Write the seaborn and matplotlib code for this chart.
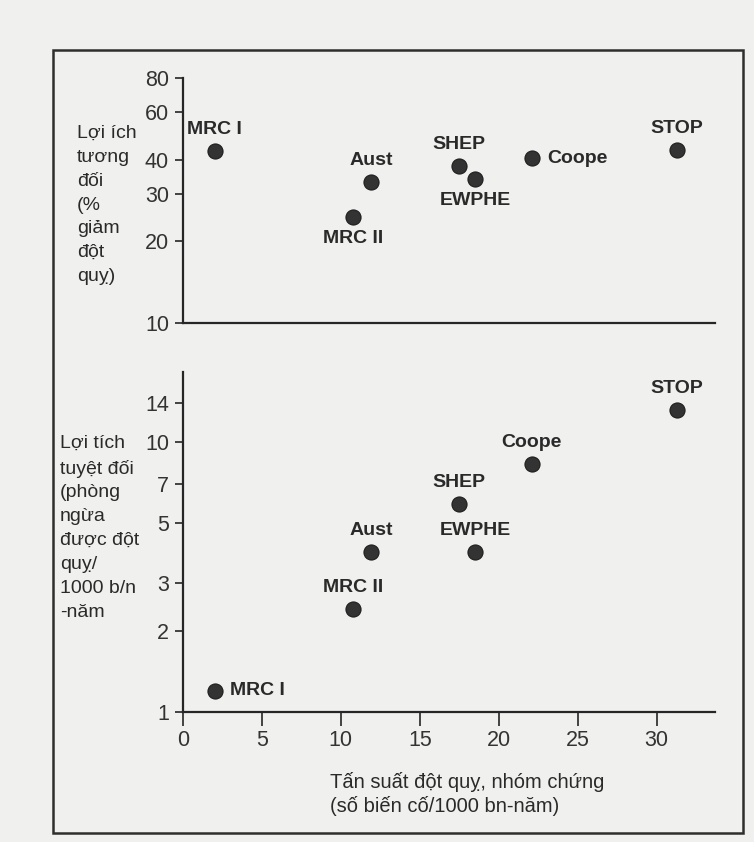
import matplotlib
matplotlib.use("Agg")
import matplotlib.pyplot as plt
import seaborn as sns
import pandas as pd
from matplotlib.patches import Rectangle
from matplotlib.ticker import FixedLocator, FixedFormatter, NullLocator

# ---- data ----
trials = ["MRC I", "MRC II", "Aust", "SHEP", "EWPHE", "Coope", "STOP"]
control_incidence = [2.0, 10.8, 11.9, 17.5, 18.5, 22.1, 31.3]      # events / 1000 pt-years
relative_benefit = [43.0, 24.5, 33.0, 38.0, 34.0, 40.5, 43.5]      # % stroke reduction
absolute_benefit = [1.2, 2.4, 3.93, 5.9, 3.93, 8.3, 13.2]          # strokes prevented / 1000 pt-years

top_ticks = [10, 20, 30, 40, 60, 80]
bottom_ticks = [1, 2, 3, 5, 7, 10, 14]
x_ticks = [0, 5, 10, 15, 20, 25, 30]

# label placement: 'above', 'below', 'right'
top_pos = ["above", "below", "above", "above", "below", "right", "above"]
bottom_pos = ["right", "above", "above", "above", "above", "above", "above"]

df = pd.DataFrame({"trial": trials, "x": control_incidence,
                   "rel": relative_benefit, "abs": absolute_benefit})

sns.set_theme(style="white")
plt.rcParams["font.family"] = ["Liberation Sans", "DejaVu Sans"]

W, H = 754, 842
bg = "#f0f0ee"
ink = "#262626"
fig = plt.figure(figsize=(W / 100, H / 100), dpi=100, facecolor=bg)

def ax_rect(x0, y0, x1, y1):
    return [x0 / W, 1 - y1 / H, (x1 - x0) / W, (y1 - y0) / H]

ax1 = fig.add_axes(ax_rect(183, 78, 715, 323))
ax2 = fig.add_axes(ax_rect(183, 372, 715, 712))

for ax in (ax1, ax2):
    ax.set_facecolor("none")
    for s in ("top", "right"):
        ax.spines[s].set_visible(False)
    for s in ("left", "bottom"):
        ax.spines[s].set_color(ink)
        ax.spines[s].set_linewidth(1.6)
    ax.set_yscale("log")
    ax.set_xlim(0, 33.7)
    ax.yaxis.set_minor_locator(NullLocator())
    ax.tick_params(axis="y", direction="out", length=6, width=1.2, color=ink,
                   labelsize=15.5, labelcolor="#333333", pad=4, left=True)

sns.scatterplot(data=df, x="x", y="rel", ax=ax1, s=118, color="#333333",
                edgecolor="#1e1e1e", linewidth=0.8, legend=False, zorder=3)
sns.scatterplot(data=df, x="x", y="abs", ax=ax2, s=118, color="#333333",
                edgecolor="#1e1e1e", linewidth=0.8, legend=False, zorder=3)

ax1.set_ylim(10, 80)
ax1.yaxis.set_major_locator(FixedLocator(top_ticks))
ax1.yaxis.set_major_formatter(FixedFormatter([str(t) for t in top_ticks]))
ax1.set_xticks([])
ax1.set_xlabel("")
ax1.set_ylabel("")

ax2.set_ylim(1, 18.2)
ax2.yaxis.set_major_locator(FixedLocator(bottom_ticks))
ax2.yaxis.set_major_formatter(FixedFormatter([str(t) for t in bottom_ticks]))
ax2.set_xticks(x_ticks)
ax2.set_xticklabels([str(t) for t in x_ticks])
ax2.tick_params(axis="x", direction="out", length=10, width=1.2, color=ink,
                labelsize=15.5, labelcolor="#333333", pad=3, bottom=True)
ax2.set_xlabel("")
ax2.set_ylabel("")

def label_points(ax, ycol, positions):
    for t, xv, yv, p in zip(df["trial"], df["x"], df[ycol], positions):
        if p == "above":
            off, ha, va = (0, 15.5), "center", "center"
        elif p == "below":
            off, ha, va = (0, -15.5), "center", "center"
        else:
            off, ha, va = (11, 0), "left", "center"
        ax.annotate(t, (xv, yv), xytext=off, textcoords="offset points",
                    ha=ha, va=va, fontsize=14, fontweight="bold", color="#2a2a2a")

label_points(ax1, "rel", top_pos)
label_points(ax2, "abs", bottom_pos)

fig.text(77 / W, 1 - 205 / H,
         "Lợi ích\ntương\nđối\n(%\ngiảm\nđột\nquỵ)",
         ha="left", va="center", fontsize=14, color="#2a2a2a", linespacing=1.53)
fig.text(60 / W, 1 - 528 / H,
         "Lợi tích\ntuyệt đối\n(phòng\nngừa\nđược đột\nquỵ/\n1000 b/n\n-năm",
         ha="left", va="center", fontsize=14, color="#2a2a2a", linespacing=1.53)
fig.text(330 / W, 1 - 794 / H,
         "Tấn suất đột quỵ, nhóm chứng\n(số biến cố/1000 bn-năm)",
         ha="left", va="center", fontsize=14.5, color="#2a2a2a", linespacing=1.3)

# outer frame of the figure box
fig.add_artist(Rectangle((53 / W, 1 - 833 / H), (743 - 53) / W, (833 - 50) / H,
                         transform=fig.transFigure, fill=False,
                         edgecolor="#2e2e2e", linewidth=1.8))

fig.savefig("out.png", dpi=100, facecolor=bg)
